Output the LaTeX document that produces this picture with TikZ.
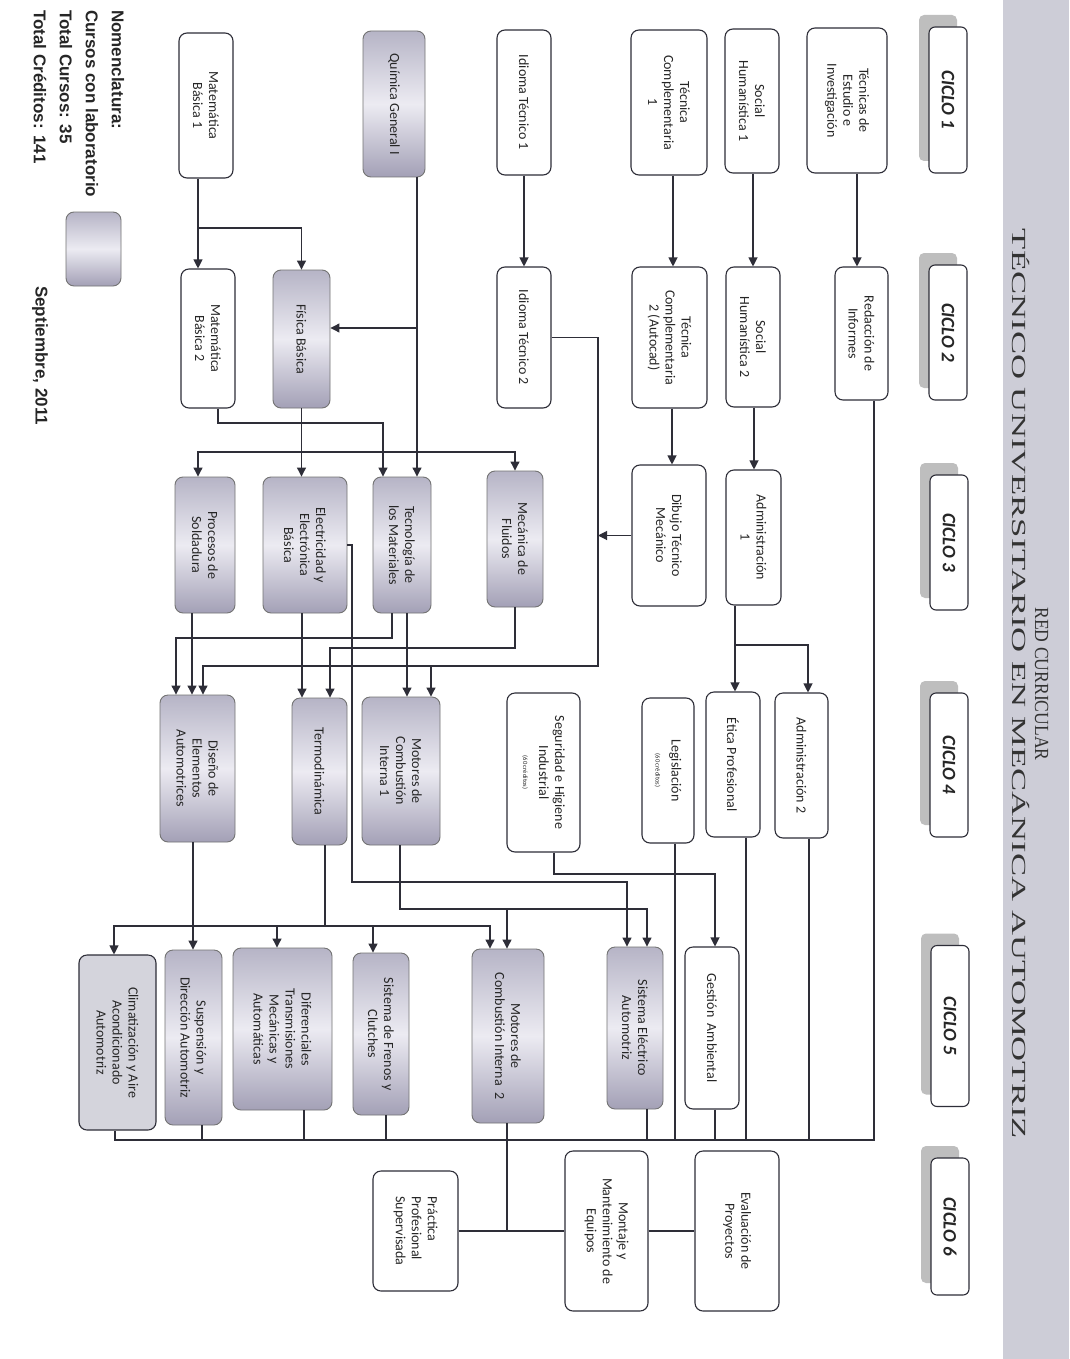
\documentclass[tikz,border=0pt]{standalone}
\usepackage{fontspec}
\usepackage{graphicx}
\setmainfont{Carlito}
\newfontfamily\titlefont{Liberation Serif}
\newfontfamily\legfont{Liberation Sans}
\usetikzlibrary{arrows.meta,calc}
\definecolor{lineC}{HTML}{2E2E38}
\definecolor{labEdge}{HTML}{B6B4C6}
\definecolor{labMid}{HTML}{ECEBF2}
\definecolor{labDark}{HTML}{A3A0B6}
\definecolor{labFlat}{HTML}{D4D4DC}
\definecolor{bandC}{HTML}{CDCDD7}
\definecolor{cycShadow}{HTML}{BEBEBE}
\newcommand\cyclebox[5]{%
  \fill[cycShadow, rounded corners=5pt] ({#2-29},{#3-#4/2-12}) rectangle ({#2+9},{#3+#4/2-12});
  \node[cyc, minimum width=#4pt] (#1) at (#2,#3) {#5};}
\begin{document}
\begin{tikzpicture}[x=1pt,y=-1pt,
  box/.style={rotate=-90, draw=lineC, line width=1.1pt, rounded corners=8pt, fill=white, align=center, inner sep=2pt, font=\fontsize{14}{16}\selectfont, text=black!85},
  lab/.style={box, draw=black!55, line width=0.9pt, top color=labEdge, bottom color=labDark, middle color=labMid},
  labflat/.style={box, fill=labFlat},
  cyc/.style={rotate=-90, draw=lineC, line width=1.1pt, rounded corners=6pt, fill=white, inner sep=1pt, font=\fontsize{19}{22}\selectfont\bfseries\itshape, minimum height=38pt, text=black!85},
  arr/.style={draw=lineC, line width=1.1pt, -{Triangle[width=9pt,length=9pt]}},
  ln/.style={draw=lineC, line width=1.1pt},
  leg/.style={rotate=-90, inner sep=0pt, font=\legfont\fontsize{17}{20}\selectfont\bfseries, text=black!85}
]
\useasboundingbox (0,0) rectangle (1069,1359);
\fill[white] (0,0) rectangle (1069,1359);
\fill[bandC] (1003,0) rectangle (1069,1359);
\node[rotate=-90, inner sep=0pt, text=black!80, font=\titlefont\fontsize{20}{23}\selectfont, align=center] (title) at (1030,684)
  {\resizebox{153pt}{\height}{RED CURRICULAR}\\\resizebox{910pt}{\height}{TÉCNICO UNIVERSITARIO EN MECÁNICA AUTOMOTRIZ}};

% cycle labels
\cyclebox{c1}{948}{100}{146}{CICLO 1}
\cyclebox{c2}{948}{332.5}{135}{CICLO 2}
\cyclebox{c3}{949}{542.5}{135}{CICLO 3}
\cyclebox{c4}{949}{765}{144}{CICLO 4}
\cyclebox{c5}{950}{1026}{161}{CICLO 5}
\cyclebox{c6}{950}{1226.5}{137}{CICLO 6}

% ciclo 1
\node[box, minimum width=145pt, minimum height=80pt] (tei) at (847,100.5) {Técnicas de\\Estudio e\\Investigación};
\node[box, minimum width=144pt, minimum height=54pt] (sh1) at (752,101) {Social\\Humanística 1};
\node[box, minimum width=145pt, minimum height=76pt] (tc1) at (669,102.5) {Técnica\\Complementaria\\1};
\node[box, minimum width=145pt, minimum height=54pt] (it1) at (524,102.5) {Idioma Técnico 1};
\node[lab, minimum width=146pt, minimum height=62pt] (qg) at (394,104) {Química General I};
\node[box, minimum width=145pt, minimum height=54pt] (mb1) at (206,105.5) {Matemática\\Básica 1};

% ciclo 2
\node[box, minimum width=133pt, minimum height=53pt] (ri) at (861.5,333.5) {Redacción de\\Informes};
\node[box, minimum width=140pt, minimum height=54pt] (sh2) at (753,337) {Social\\Humanística 2};
\node[box, minimum width=141pt, minimum height=75pt] (tc2) at (669.5,337.5) {Técnica\\Complementaria\\2 (Autocad)};
\node[box, minimum width=141pt, minimum height=54pt] (it2) at (524,337.5) {Idioma Técnico 2};
\node[lab, minimum width=138pt, minimum height=57pt] (fb) at (301.5,339) {Física Básica};
\node[box, minimum width=139pt, minimum height=54pt] (mb2) at (208,338.5) {Matemática\\Básica 2};

% ciclo 3
\node[box, minimum width=135pt, minimum height=55pt] (adm1) at (753.5,537.5) {Administración\\1};
\node[box, minimum width=141pt, minimum height=74pt] (dtm) at (669,535.5) {Dibujo Técnico\\Mecánico};
\node[lab, minimum width=136pt, minimum height=56pt] (mf) at (515,539) {Mecánica de\\Fluidos};
\node[lab, minimum width=136pt, minimum height=58pt] (tm) at (402,545) {Tecnología de\\los Materiales};
\node[lab, minimum width=136pt, minimum height=84pt] (el) at (305,545) {Electricidad y\\Electrónica\\Básica};
\node[lab, minimum width=136pt, minimum height=60pt] (ps) at (205,545) {Procesos de\\Soldadura};

% ciclo 4
\node[box, minimum width=145pt, minimum height=53pt] (adm2) at (801.5,765.5) {Administración 2};
\node[box, minimum width=145pt, minimum height=54pt] (eti) at (733,764.5) {Ética Profesional};
\node[box, minimum width=145pt, minimum height=52pt] (leg) at (668,770.5) {Legislación\\{\fontsize{6.5}{7}\selectfont (60 créditos)}};
\node[box, minimum width=159pt, minimum height=73pt] (seg) at (543.5,772.5) {Seguridad e Higiene\\Industrial\\{\fontsize{6.5}{7}\selectfont (60 créditos)}};
\node[lab, minimum width=148pt, minimum height=78pt] (mci1) at (401,771) {Motores de\\Combustión\\Interna 1};
\node[lab, minimum width=147pt, minimum height=55pt] (ter) at (319.5,771.5) {Termodinámica};
\node[lab, minimum width=147pt, minimum height=75pt] (de) at (197.5,768.5) {Diseño de\\Elementos\\Automotrices};

% ciclo 5
\node[box, minimum width=162pt, minimum height=54pt] (ges) at (712,1028) {Gestión\ \ Ambiental};
\node[lab, minimum width=162pt, minimum height=56pt] (se) at (635,1028) {Sistema Eléctrico\\Automotriz};
\node[lab, minimum width=174pt, minimum height=72pt] (mci2) at (508,1036) {Motores de\\Combustión Interna\ \ 2};
\node[lab, minimum width=162pt, minimum height=56pt] (fre) at (381,1034) {Sistema de Frenos y\\Clutches};
\node[lab, minimum width=162pt, minimum height=99pt] (dif) at (282.5,1029) {Diferenciales\\Transmisiones\\Mecánicas y\\Automáticas};
\node[lab, minimum width=175pt, minimum height=57pt] (sus) at (193.5,1037.5) {Suspensión y\\Dirección Automotriz};
\node[labflat, minimum width=175pt, minimum height=77pt] (cli) at (117.5,1042.5) {Climatización y Aire\\Acondicionado\\Automotriz};

% ciclo 6
\node[box, minimum width=160pt, minimum height=84pt] (ev) at (737,1231) {Evaluación de\\Proyectos};
\node[box, minimum width=160pt, minimum height=83pt] (mon) at (606.5,1231) {Montaje y\\Mantenimiento de\\Equipos};
\node[box, minimum width=120pt, minimum height=85pt, align=left] (prac) at (415.5,1231) {Práctica\\Profesional\\Supervisada};

% legend
\node[lab, minimum width=74pt, minimum height=55pt] (legbox) at (93.5,249) {};
\node[leg, anchor=west] (l1) at (118,10) {Nomenclatura:};
\node[leg, anchor=west] (l2) at (92,10) {Cursos con laboratorio};
\node[leg, anchor=west] (l3) at (66,10) {Total Cursos: 35};
\node[leg, anchor=west] (l4) at (40,10) {Total Créditos: 141};
\node[leg, anchor=west] (l5) at (40,286) {Septiembre, 2011};

% connectors ciclo 1 -> 2
\draw[arr] ([xshift=10pt]tei.east) -- ([xshift=-4.5pt]ri.west);
\draw[arr] ([xshift=1pt]sh1.east) -- (sh2.west);
\draw[arr] ([xshift=4pt]tc1.east) -- ([xshift=3.5pt]tc2.west);
\draw[arr] (it1.east) -- (it2.west);
\draw[arr] ([xshift=-8pt]mb1.east) -- ([xshift=-10pt]mb2.west);
\draw[arr] (198,228) -| (fb.west);
\draw[arr] ([xshift=23pt]qg.east) -- ([xshift=15pt]tm.west);
\draw[arr] (417,328) -- ([yshift=11pt]fb.north);

% ciclo 2 -> 3
\draw[arr] ([xshift=10pt]mb2.east) |- (383,423) -- ([xshift=-19pt]tm.west);
\draw[arr] (fb.east) -- ([xshift=-3.5pt]el.west);
\draw[arr] (301.5,452) -| ([xshift=-7pt]ps.west);
\draw[arr] (301.5,452) -| (mf.west);
\draw[arr] ([xshift=2.5pt]tc2.east) -- ([xshift=3pt]dtm.west);
\draw[arr] ([xshift=1pt]sh2.east) -- ([xshift=0.5pt]adm1.west);
\draw[arr] (it2.north) -| (598,666) -| ([xshift=5.5pt]de.west);
\draw[arr] (431,666) -- ([xshift=30pt]mci1.west);
\coordinate (jd) at (598,535.5);
\draw[arr] (dtm.south) -- (jd);

% ciclo 3 -> 4
\draw[arr] ([xshift=-18.5pt]adm1.east) -- ([xshift=2pt]eti.west);
\draw[arr] (735,645) -| ([xshift=6.5pt]adm2.west);
\draw[arr] ([xshift=-13pt]ps.east) -- ([xshift=-5.5pt]de.west);
\draw[arr] ([xshift=-10pt]tm.east) |- (176,638) -- ([xshift=-21.5pt]de.west);
\draw[arr] ([xshift=5pt]tm.east) -- ([xshift=6pt]mci1.west);
\draw[arr] (mf.east) |- (330,648) -- ([xshift=10.5pt]ter.west);
\draw[arr] ([xshift=-3pt]el.east) -- ([xshift=-17.5pt]ter.west);

% ciclo 3/4 -> 5
\draw[arr] (el.north) -| (352,882) -| ([xshift=-8pt]se.west);
\draw[arr] ([xshift=-1pt]mci1.east) |- (647,909) -- ([xshift=12pt]se.west);
\draw[arr] (507,909) -- ([xshift=-1pt]mci2.west);
\draw[arr] ([xshift=5.5pt]ter.east) |- (490,926) -- ([xshift=-18pt]mci2.west);
\draw[arr] (325,926) -| ([xshift=-3.5pt]cli.west);
\draw[arr] (277,926) -- ([xshift=-5.5pt]dif.west);
\draw[arr] (373,926) -- ([xshift=-8pt]fre.west);
\draw[arr] ([xshift=-4.5pt]de.east) -- ([xshift=-0.5pt]sus.west);
\draw[arr] ([xshift=10.5pt]seg.east) |- (715,874) -- ([xshift=3pt]ges.west);

% collector to ciclo 6
\draw[ln] ([xshift=12.5pt]ri.east) |- (115,1140) -- ([xshift=-2.5pt]cli.east);
\draw[ln] ([xshift=7.5pt]adm2.east) -- (809,1140);
\draw[ln] ([xshift=13pt]eti.east) -- (746,1140);
\draw[ln] ([xshift=7pt]leg.east) -- (675,1140);
\draw[ln] ([xshift=3pt]ges.east) -- (715,1140);
\draw[ln] ([xshift=12pt]se.east) -- (647,1140);
\draw[ln] ([xshift=8.5pt]sus.east) -- (202,1140);
\draw[ln] ([xshift=21.5pt]dif.east) -- (304,1140);
\draw[ln] ([xshift=5pt]fre.east) -- (386,1140);
\draw[ln] ([xshift=-1pt]mci2.east) -- (507,1231);
\draw[ln] (prac.north) -- (mon.south);
\draw[ln] (mon.north) -- (ev.south);
\end{tikzpicture}
\end{document}
